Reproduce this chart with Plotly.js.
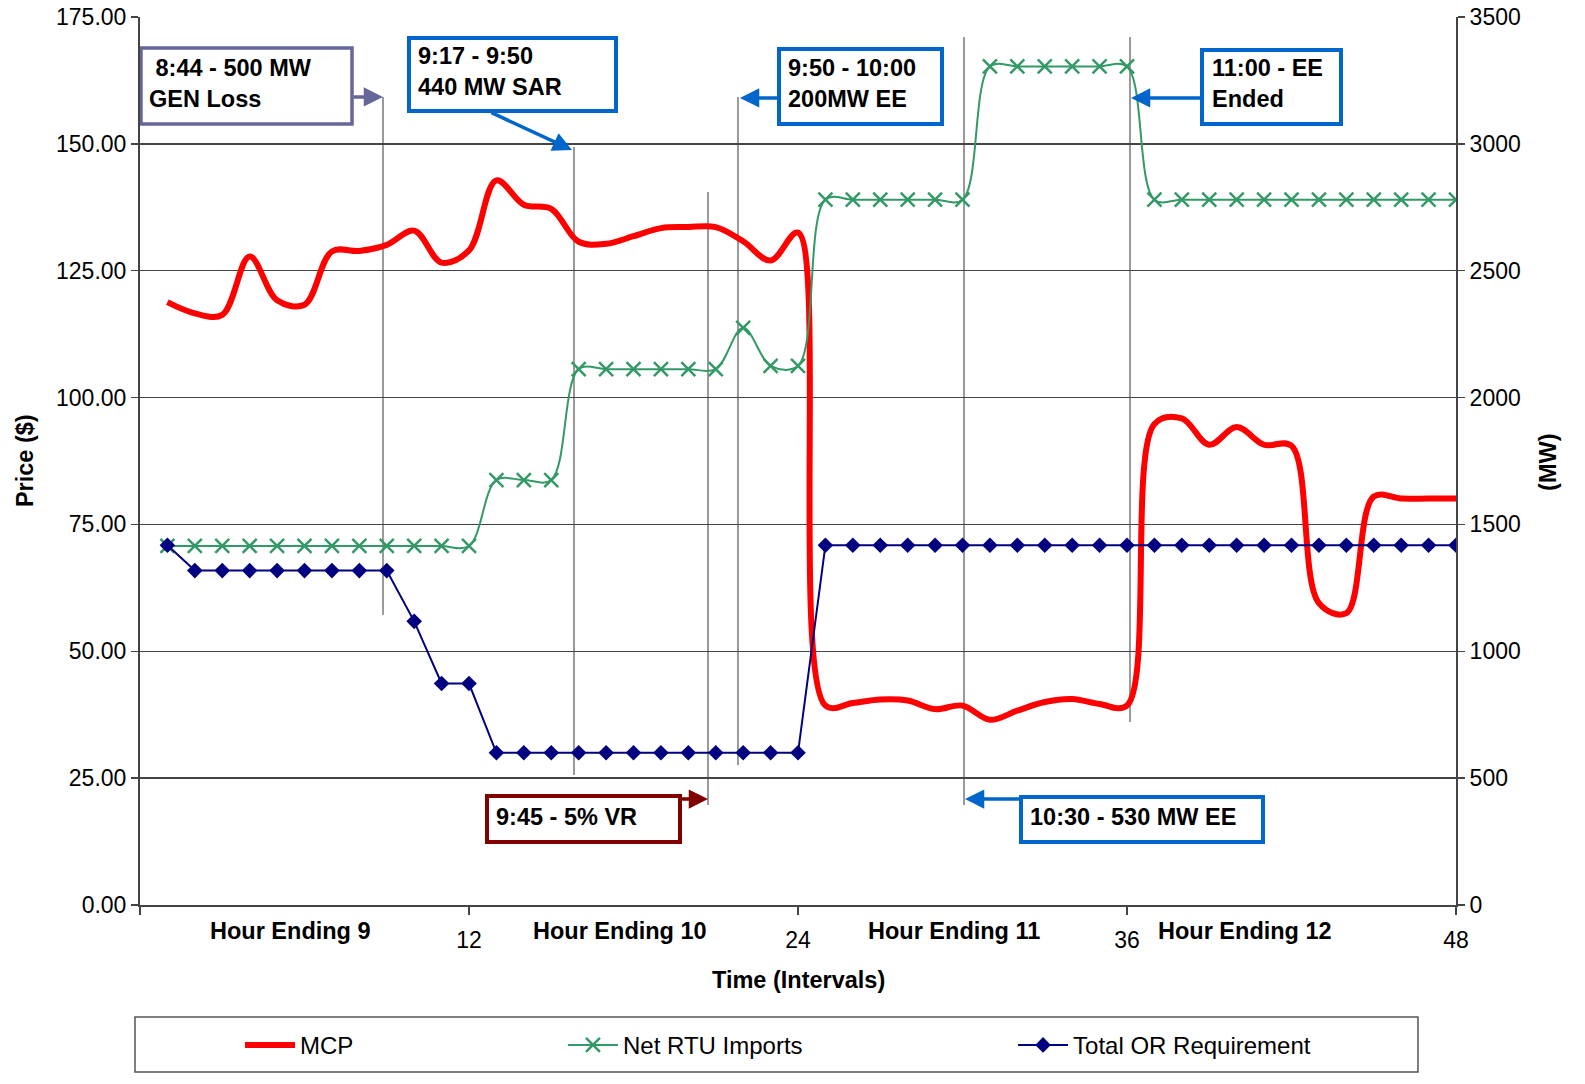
<!DOCTYPE html>
<html><head><meta charset="utf-8">
<script src="https://cdn.plot.ly/plotly-3.0.1.min.js"></script>
<style>html,body{margin:0;padding:0;background:#fff}#chart{width:1585px;height:1084px}</style>
</head><body><div id="chart"></div>
<script>
// ---- data ----
const intervals = [1,2,3,4,5,6,7,8,9,10,11,12,13,14,15,16,17,18,19,20,21,22,23,24,
                   25,26,27,28,29,30,31,32,33,34,35,36,37,38,39,40,41,42,43,44,45,46,47,48];
const mcp = [118.8,116.6,116.3,127.8,119.2,118.3,128.8,128.9,130.1,132.9,126.6,129.0,
             142.8,138.0,137.2,130.7,130.3,131.8,133.4,133.6,133.6,130.8,127.0,132.5,
             39.3,39.8,40.5,40.3,38.6,39.3,36.5,38.3,40.0,40.6,39.6,39.3,
             94.8,95.9,90.7,94.2,90.7,90.5,59.5,57.5,80.5,80.1,80.1,80.1];
const netRtuImports = [1415,1415,1415,1415,1415,1415,1415,1415,1415,1415,1415,1415,
                       1675,1675,1675,2112,2112,2112,2112,2112,2112,2275,2125,2125,
                       2780,2780,2780,2780,2780,2780,3305,3305,3305,3305,3305,3305,
                       2780,2780,2780,2780,2780,2780,2780,2780,2780,2780,2780,2780];
const totalOrRequirement = [1418,1318,1318,1318,1318,1318,1318,1318,1318,1118,873,873,
                            600,600,600,600,600,600,600,600,600,600,600,600,
                            1418,1418,1418,1418,1418,1418,1418,1418,1418,1418,1418,1418,
                            1418,1418,1418,1418,1418,1418,1418,1418,1418,1418,1418,1418];
const seriesNames = ['MCP','Net RTU Imports','Total OR Requirement'];
const xTickVals = [0,12,24,36,48];
const xTickText = ['','12','24','36','48'];
const hourLabels = ['Hour Ending 9','Hour Ending 10','Hour Ending 11','Hour Ending 12'];
const eventTexts = ['\u00a08:44 - 500 MW<br>GEN Loss','9:17 - 9:50<br>440 MW SAR','9:50 - 10:00<br>200MW EE',
                    '11:00 - EE<br>Ended','9:45 - 5% VR','10:30 - 530 MW EE'];

// ---- styling / layout ----
const FONT = '"Liberation Sans", Arial, sans-serif';
const PURPLE = '#666699', BLUE = '#0066CC', DRED = '#800000', GRAYLINE = '#9a9a9a';
const BOLD = 23.5, TICK = 23;

const traces = [
  {x: intervals, y: mcp, name: seriesNames[0], type:'scatter', mode:'lines', yaxis:'y',
   line:{color:'#FF0000', width:6, shape:'spline', smoothing:1}, legend:'legend'},
  {x: intervals, y: netRtuImports, name: seriesNames[1], type:'scatter', mode:'lines+markers', yaxis:'y2',
   line:{color:'#339966', width:2, shape:'spline', smoothing:1},
   marker:{symbol:'x-thin', size:14, color:'#339966', line:{color:'#339966', width:2.5}}, legend:'legend2'},
  {x: intervals, y: totalOrRequirement, name: seriesNames[2], type:'scatter', mode:'lines+markers', yaxis:'y2',
   line:{color:'#000080', width:2}, marker:{symbol:'diamond', size:12, color:'#000080'}, legend:'legend3'}
];

function vline(x, y0, y1){ return {type:'line', xref:'x', yref:'y', x0:x, x1:x, y0:y0, y1:y1, layer:'below', line:{color:GRAYLINE, width:2}}; }
function box(x0,x1,y0,y1,color,w){ return {type:'rect', xref:'x', yref:'y', x0:x0, x1:x1, y0:y0, y1:y1, layer:'above', fillcolor:'#fff', line:{color:color, width:w}}; }
function arrow(tx,ty,hx,hy,color){ return {x:hx, y:hy, ax:tx, ay:ty, xref:'x', yref:'y', axref:'x', ayref:'y', text:'', showarrow:true,
   arrowhead:2, arrowsize:1.1, arrowwidth:3.5, arrowcolor:color, standoff:0, startstandoff:0}; }
function label(x,y,txt){ return {x:x, y:y, xref:'x', yref:'y', xanchor:'left', yanchor:'middle', align:'left', showarrow:false,
   text:'<b>'+txt+'</b>', font:{family:FONT, size:BOLD, color:'#000'}}; }

const shapes = [
  vline(8.863,159.24,57.15), vline(15.830,149.38,25.62), vline(20.717,140.51,19.71),
  vline(21.811,159.24,27.59), vline(30.055,171.06,19.71), vline(36.109,171.06,36.06),
  box(0.036,7.733,168.89,153.91,PURPLE,3.5),
  box(9.811,17.362,170.86,156.48,BLUE,4),
  box(23.307,29.252,168.70,153.91,BLUE,4),
  box(38.736,43.806,168.50,153.91,BLUE,4),
  box(12.657,19.696,21.48,12.42,DRED,4),
  box(32.134,40.960,21.28,12.42,BLUE,4),
  {type:'rect', xref:'paper', yref:'paper', x0:-0.0038, x1:0.9711, y0:-0.1261, y1:-0.188, line:{color:'#555', width:1.5}, fillcolor:'rgba(0,0,0,0)'}
];

const hourPos = [5.5, 17.5, 29.7, 40.3];
const annotations = [
  arrow(7.733,159.24,8.863,159.24,PURPLE),
  arrow(12.766,156.28,15.757,148.79,BLUE),
  arrow(23.307,159.04,21.884,159.04,BLUE),
  arrow(38.736,159.04,36.146,159.04,BLUE),
  arrow(19.696,20.89,20.717,20.89,DRED),
  arrow(32.134,20.89,30.091,20.89,BLUE),
  label(0.255,161.8,eventTexts[0]),
  label(10.067,164.26,eventTexts[1]),
  label(23.562,161.89,eventTexts[2]),
  label(39.027,161.89,eventTexts[3]),
  label(12.912,17.34,eventTexts[4]),
  label(32.389,17.34,eventTexts[5]),
  {x:-0.0988, y:0.501, xref:'paper', yref:'paper', text:'<b>Price ($)</b>', textangle:-90, showarrow:false, font:{family:FONT,size:BOLD,color:'#000'}},
  {x:1.0813, y:0.499, xref:'paper', yref:'paper', text:'<b>(MW)</b>', textangle:-90, showarrow:false, font:{family:FONT,size:BOLD,color:'#000'}},
  {x:0.5, y:-0.0845, xref:'paper', yref:'paper', text:'<b>Time (Intervals)</b>', showarrow:false, yanchor:'middle', font:{family:FONT,size:BOLD,color:'#000'}}
];
hourLabels.forEach((t,i)=>annotations.push({x:hourPos[i], y:-0.0293, xref:'x', yref:'paper', text:'<b>'+t+'</b>', showarrow:false,
  yanchor:'middle', font:{family:FONT,size:BOLD,color:'#000'}}));

const legendBase = {orientation:'h', y:-0.158, yanchor:'middle', xanchor:'left', bgcolor:'rgba(0,0,0,0)', borderwidth:0,
  itemwidth:50, font:{family:FONT, size:24, color:'#000'}};

const layout = {
  width:1585, height:1084,
  margin:{l:140, r:129, t:17, b:179, autoexpand:false},
  paper_bgcolor:'#fff', plot_bgcolor:'#fff',
  font:{family:FONT, size:TICK, color:'#000'},
  showlegend:true,
  legend: Object.assign({}, legendBase, {x:0.076}),
  legend2: Object.assign({}, legendBase, {x:0.3214}),
  legend3: Object.assign({}, legendBase, {x:0.6634}),
  xaxis:{range:[0,48], tickvals:xTickVals, ticktext:xTickText, ticks:'outside', ticklen:8, tickwidth:1.5, tickcolor:'#444',
         showgrid:false, showline:true, linecolor:'#444', linewidth:2, zeroline:false, ticklabelstandoff:5,
         tickfont:{family:FONT,size:TICK,color:'#000'}},
  yaxis:{range:[0,175], tick0:0, dtick:25, tickformat:'.2f', ticks:'outside', ticklen:7, tickwidth:1.5, tickcolor:'#444',
         showgrid:true, gridcolor:'#444', gridwidth:1.3, showline:true, linecolor:'#444', linewidth:2, zeroline:false,
         tickfont:{family:FONT,size:TICK,color:'#000'}},
  yaxis2:{overlaying:'y', side:'right', range:[0,3500], tick0:0, dtick:500, tickformat:'d', ticks:'outside', ticklen:7, tickwidth:1.5,
          tickcolor:'#444', showgrid:false, showline:true, linecolor:'#444', linewidth:2, zeroline:false,
          tickfont:{family:FONT,size:TICK,color:'#000'}},
  shapes: shapes,
  annotations: annotations
};

Plotly.newPlot('chart', traces, layout, {staticPlot:true, displayModeBar:false});
</script></body></html>
